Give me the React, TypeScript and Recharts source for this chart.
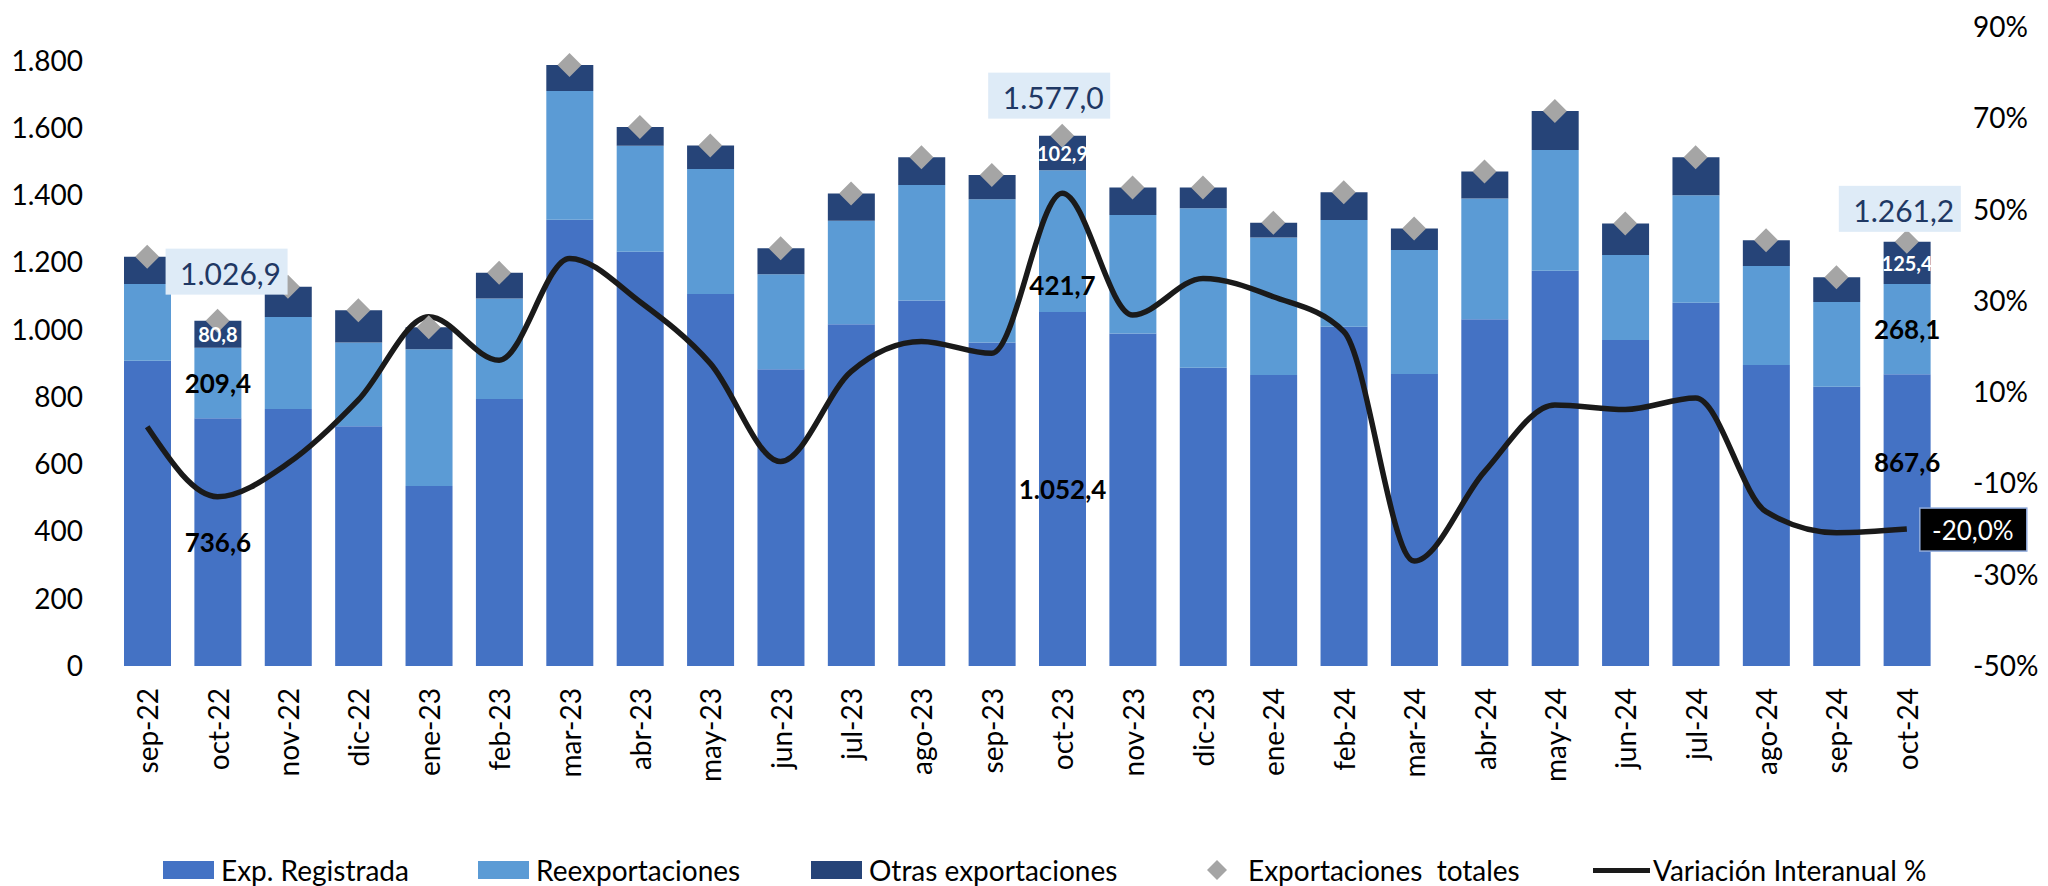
import { ComposedChart, Bar, Line, XAxis, YAxis, LabelList, Legend } from 'recharts';

const FONT = 'Lato, "Open Sans", sans-serif';

const months = [
  'sep-22', 'oct-22', 'nov-22', 'dic-22', 'ene-23', 'feb-23', 'mar-23', 'abr-23', 'may-23',
  'jun-23', 'jul-23', 'ago-23', 'sep-23', 'oct-23', 'nov-23', 'dic-23', 'ene-24', 'feb-24',
  'mar-24', 'abr-24', 'may-24', 'jun-24', 'jul-24', 'ago-24', 'sep-24', 'oct-24',
];

const expRegistrada = [
  908, 736.6, 764, 713, 535, 794, 1327, 1232, 1106, 882, 1016, 1087, 962, 1052.4, 989, 887,
  865, 1009, 868, 1031, 1175, 969, 1080, 895, 830, 867.6,
];

const reexportaciones = [
  228, 209.4, 274, 249, 407, 299, 383, 315, 372, 283, 308, 343, 426, 421.7, 352, 474, 409,
  317, 369, 359, 359, 253, 320, 294, 252, 268.1,
];

const otrasExportaciones = [
  81, 80.8, 90, 96, 65, 76, 77, 56, 70, 77, 81, 83, 72, 102.9, 82, 62, 44, 83, 64, 80, 116,
  94, 113, 77, 74, 125.4,
];

const exportacionesTotales = [
  1217, 1026.9, 1128, 1058, 1007, 1169, 1787, 1603, 1548, 1242, 1405, 1513, 1460, 1577.0,
  1423, 1423, 1318, 1409, 1301, 1470, 1650, 1316, 1513, 1266, 1156, 1261.2,
];

const variacionInteranual = [
  2.4, -12.9, -5.6, 8.3, 26.5, 17.0, 39.3, 29.8, 16.3, -5.2, 14.5, 21.1, 18.5, 53.6, 26.9,
  34.9, 30.9, 23.3, -27.0, -7.4, 7.2, 6.2, 8.7, -16.2, -20.8, -20.0,
];

// months whose values are written on the chart
const highlighted = ['oct-22', 'oct-23', 'oct-24'];
const lastMonth = 'oct-24';

const leftTicks = [0, 200, 400, 600, 800, 1000, 1200, 1400, 1600, 1800];
const rightTicks = [-50, -30, -10, 10, 30, 50, 70, 90];

const fmtEs = (v: number, digits = 1) => {
  const [int, dec] = Math.abs(v).toFixed(digits).split('.');
  const grouped = int.replace(/\B(?=(\d{3})+(?!\d))/g, '.');
  return (v < 0 ? '-' : '') + grouped + (dec ? ',' + dec : '');
};

const chartData = months.map((m, i) => {
  const show = highlighted.includes(m);
  return {
    month: m,
    exp: expRegistrada[i],
    reexp: reexportaciones[i],
    otras: otrasExportaciones[i],
    total: exportacionesTotales[i],
    variacion: variacionInteranual[i],
    expLabel: show ? fmtEs(expRegistrada[i]) : '',
    reexpLabel: show ? fmtEs(reexportaciones[i]) : '',
    otrasLabel: show ? fmtEs(otrasExportaciones[i]) : '',
    totalLabel: show ? fmtEs(exportacionesTotales[i]) : '',
    varLabel: m === lastMonth ? fmtEs(variacionInteranual[i]) + '%' : '',
  };
});

// labels that were nudged off the segment centre in the original
const segmentShift: Record<string, number> = {
  'reexp-oct-23': 44,
  'exp-oct-24': -58,
};

const segmentLabel = (series: string, color: string, size: number) => (props: any) => {
  const { x, y, width, height, value, index } = props;
  if (!value) return null;
  const dy = segmentShift[`${series}-${months[index]}`] ?? 0;
  return (
    <text
      x={Number(x) + Number(width) / 2}
      y={Number(y) + Number(height) / 2 + dy}
      textAnchor="middle"
      dominantBaseline="central"
      fill={color}
      fontSize={size}
      fontWeight={700}
      fontFamily={FONT}
    >
      {value}
    </text>
  );
};

// where each total box sits relative to its diamond
const totalBoxOffset: Record<string, [number, number]> = {
  'oct-22': [9, -49],
  'oct-23': [-13, -40],
  'oct-24': [-7, -33],
};

const TotalBox = (props: any) => {
  const { x, y, value, index } = props;
  if (!value) return null;
  const [dx, dy] = totalBoxOffset[months[index]] ?? [0, -40];
  const cx = Number(x) + dx;
  const cy = Number(y) + dy;
  return (
    <g>
      <rect x={cx - 61} y={cy - 23} width={122} height={46} fill="#DEEBF7" />
      <text
        x={cx + 4}
        y={cy + 1}
        textAnchor="middle"
        dominantBaseline="central"
        fill="#1F3864"
        fontSize={30}
        fontFamily={FONT}
      >
        {value}
      </text>
    </g>
  );
};

const VarBox = (props: any) => {
  const { x, y, value } = props;
  if (!value) return null;
  const bx = Number(x) + 13;
  const by = Number(y);
  return (
    <g>
      <rect x={bx} y={by - 21} width={107} height={43} fill="#000" stroke="#8FAADC" strokeWidth={1.5} />
      <text
        x={bx + 53}
        y={by + 1}
        textAnchor="middle"
        dominantBaseline="central"
        fill="#fff"
        fontSize={26}
        fontFamily={FONT}
      >
        {value}
      </text>
    </g>
  );
};

const Diamond = (props: any) => {
  const { cx, cy, index } = props;
  if (cx == null || cy == null) return <g key={index} />;
  const r = 12;
  return (
    <polygon
      key={index}
      points={`${cx},${cy - r} ${cx + r},${cy} ${cx},${cy + r} ${cx - r},${cy}`}
      fill="#A5A5A5"
    />
  );
};

const MonthTick = (props: any) => {
  const { x, y, payload } = props;
  return (
    <text
      x={x}
      y={y}
      transform={`rotate(-90 ${x} ${y})`}
      textAnchor="end"
      dominantBaseline="central"
      fill="#000"
      fontSize={28}
      fontFamily={FONT}
    >
      {payload.value}
    </text>
  );
};

const legendItems = [
  { name: 'Exp. Registrada', kind: 'rect', color: '#4472C4', left: 163 },
  { name: 'Reexportaciones', kind: 'rect', color: '#5B9BD5', left: 478 },
  { name: 'Otras exportaciones', kind: 'rect', color: '#264478', left: 811 },
  { name: 'Exportaciones  totales', kind: 'diamond', color: '#A5A5A5', left: 1203 },
  { name: 'Variación Interanual %', kind: 'line', color: '#1a1a1a', left: 1593 },
];

const renderLegend = () => (
  <div style={{ position: 'relative', width: 2048, height: 36, fontFamily: FONT, fontSize: 28 }}>
    {legendItems.map((it) => (
      <div
        key={it.name}
        style={{
          position: 'absolute',
          left: it.left,
          top: 0,
          height: 36,
          display: 'flex',
          alignItems: 'center',
          whiteSpace: 'pre',
          color: '#000',
        }}
      >
        {it.kind === 'rect' && (
          <span style={{ width: 51, height: 18, background: it.color, marginRight: 7 }} />
        )}
        {it.kind === 'diamond' && (
          <svg width={30} height={24} style={{ marginRight: 15 }}>
            <polygon points="14,2 24,12 14,22 4,12" fill={it.color} />
          </svg>
        )}
        {it.kind === 'line' && (
          <span style={{ width: 57, height: 5, background: it.color, marginRight: 3 }} />
        )}
        <span>{it.name}</span>
      </div>
    ))}
  </div>
);

const App = () => (
  <div style={{ position: 'absolute', top: 0, left: 0, width: 2048, height: 886, background: '#fff' }}>
    <ComposedChart
      width={2048}
      height={886}
      data={chartData}
      margin={{ top: 27, right: 0, left: 0, bottom: 20 }}
      barSize={47}
    >
      <XAxis
        dataKey="month"
        height={200}
        axisLine={false}
        tickLine={false}
        tickSize={0}
        tickMargin={22}
        interval={0}
        tick={<MonthTick />}
      />
      <YAxis
        yAxisId="left"
        width={112}
        domain={[0, 1900]}
        ticks={leftTicks}
        axisLine={false}
        tickLine={false}
        tickSize={0}
        tickMargin={29}
        tickFormatter={(v: number) => fmtEs(v, 0)}
        tick={{ fontSize: 28, fill: '#000', fontFamily: FONT }}
      />
      <YAxis
        yAxisId="right"
        orientation="right"
        width={106}
        domain={[-50, 90]}
        ticks={rightTicks}
        axisLine={false}
        tickLine={false}
        tickSize={0}
        tickMargin={31}
        tickFormatter={(v: number) => `${v}%`}
        tick={{ fontSize: 28, fill: '#000', fontFamily: FONT }}
      />
      <Legend
        verticalAlign="middle"
        align="center"
        layout="horizontal"
        content={renderLegend}
        wrapperStyle={{ top: 852, left: 0, width: 2048, height: 36 }}
      />
      <Bar yAxisId="left" dataKey="exp" name="Exp. Registrada" stackId="a" fill="#4472C4" isAnimationActive={false}>
        <LabelList dataKey="expLabel" content={segmentLabel('exp', '#000', 26)} />
      </Bar>
      <Bar yAxisId="left" dataKey="reexp" name="Reexportaciones" stackId="a" fill="#5B9BD5" isAnimationActive={false}>
        <LabelList dataKey="reexpLabel" content={segmentLabel('reexp', '#000', 26)} />
      </Bar>
      <Bar yAxisId="left" dataKey="otras" name="Otras exportaciones" stackId="a" fill="#264478" isAnimationActive={false}>
        <LabelList dataKey="otrasLabel" content={segmentLabel('otras', '#fff', 20)} />
      </Bar>
      <Line
        yAxisId="right"
        dataKey="variacion"
        name="Variación Interanual %"
        type="monotone"
        stroke="#1a1a1a"
        strokeWidth={5.5}
        dot={false}
        activeDot={false}
        isAnimationActive={false}
      >
        <LabelList dataKey="varLabel" content={VarBox} />
      </Line>
      <Line
        yAxisId="left"
        dataKey="total"
        name="Exportaciones  totales"
        stroke="none"
        dot={Diamond}
        activeDot={false}
        isAnimationActive={false}
      >
        <LabelList dataKey="totalLabel" content={TotalBox} />
      </Line>
    </ComposedChart>
  </div>
);

export default App;
